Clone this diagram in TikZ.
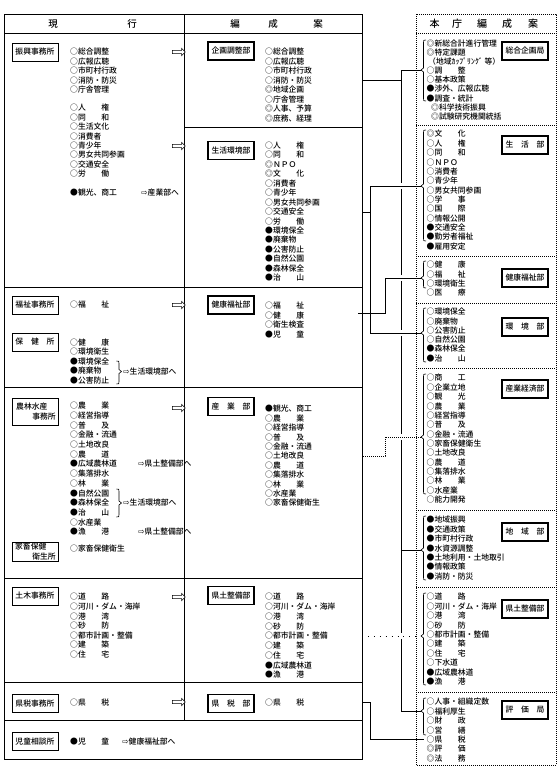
\documentclass[tikz,border=0pt]{standalone}
\usepackage{fontspec}
\setmainfont{Noto Sans CJK JP}[UprightFont=* Medium]
\newfontfamily\arrfont{DejaVu Sans}
\usetikzlibrary{shapes.arrows}
\newcommand\harr{{\arrfont ⇨}}
\newcommand\mylist[5]{\foreach \t [count=\i from 0] in {#5} {\node[itm] (#1\i) at (#2,{#3+\i*#4}) {\t};}}
\newcommand\lbrc[4]{\draw[conn] (#1+2.5,#2) .. controls (#1,#2) .. (#1,#2+2.5) -- (#1,#3-2) -- (#1-2.5,#3) -- (#1,#3+2) -- (#1,#4-2.5) .. controls (#1,#4) .. (#1+2.5,#4);}
\newcommand\rbrc[4]{\draw[conn] (#1-2.5,#2) .. controls (#1,#2) .. (#1,#2+2.5) -- (#1,#3-2) -- (#1+2.5,#3) -- (#1,#3+2) -- (#1,#4-2.5) .. controls (#1,#4) .. (#1-2.5,#4);}
\begin{document}
\begin{tikzpicture}[x=1pt,y=-1pt,
  itm/.style={anchor=west,inner sep=0pt,font=\fontsize{7.8}{9}\selectfont},
  conn/.style={line width=0.6pt},
  lbox/.style={draw,line width=0.6pt,minimum width=46pt,minimum height=18pt,inner sep=0pt,font=\fontsize{7.8}{9}\selectfont},
  mbox/.style={lbox,line width=1.1pt},
  hdr/.style={inner sep=0pt,font=\fontsize{9.5}{10}\selectfont},
  harrow/.style={single arrow,draw,fill=white,line width=0.5pt,minimum height=13pt,minimum width=7pt,single arrow head extend=2pt,inner sep=1.4pt},
  dotf/.style={line width=0.6pt,dash pattern=on 0.8pt off 1.2pt}]
\useasboundingbox (0,0) rectangle (560,769);
\fill[white] (0,0) rectangle (560,769);

% ---------- left frame ----------
\draw[line width=0.9pt] (4,14) rectangle (362,759);
\draw[line width=0.5pt] (4,33) -- (362,33);
\draw[line width=0.5pt] (184,14) -- (184,720);
\draw[line width=0.5pt] (184,127) -- (362,127);
\foreach \yy in {287,387,578,682,720} \draw[line width=0.6pt] (4,\yy) -- (362,\yy);

\node[hdr] (hg1) at (53,24) {現};
\node[hdr] (hg2) at (132,24) {行};
\node[hdr] (hh1) at (235,24) {編};
\node[hdr] (hh2) at (273,24) {成};
\node[hdr] (hh3) at (318,24) {案};

% ---------- left column boxes ----------
\node[lbox] (bshinko) at (35,52) {振興事務所};
\node[lbox] (bfukushi) at (35,305) {福祉事務所};
\node[lbox] (bhoken) at (35,342) {保　健　所};
\node[lbox,minimum height=27pt] (bnorin) at (35,411.5) {};
\node[itm] (bnorin1) at (16,407) {農林水産};
\node[itm,anchor=east] (bnorin2) at (56,416.5) {事務所};
\node[lbox,minimum height=19pt] (bkachiku) at (35,551.5) {};
\node[itm] (bkachiku1) at (15,547) {家畜保健};
\node[itm,anchor=east] (bkachiku2) at (56,556.5) {衛生所};
\node[lbox] (bdoboku) at (35,596) {土木事務所};
\node[lbox] (bkenzei) at (35,703.5) {県税事務所};
\node[lbox] (bjido) at (35,741.5) {児童相談所};

% ---------- left column items ----------
\mylist{la}{70}{52}{9.4}{○総合調整,○広報広聴,○市町村行政,○消防・防災,○庁舎管理}
\mylist{lb}{70}{108}{9.4}{○人　　権,○同　　和,○生活文化,○消費者,○青少年,○男女共同参画,○交通安全,○労　　働}
\node[itm] (lc) at (70,193) {●観光、商工};
\node[itm] (lcx) at (141,193) {\harr 産業部へ};
\node[itm] (ld) at (70,305) {○福　　祉};
\mylist{le}{70}{342.5}{9.5}{○健　　康,○環境衛生,●環境保全,●廃棄物,●公害防止}
\rbrc{119}{361}{371.5}{384}
\node[itm] (lex) at (123,372) {\harr 生活環境部へ};
\mylist{lf}{70}{406}{9.67}{○農　　業,○経営指導,○普　　及,○金融・流通,○土地改良,○農　　道,●広域農林道,○集落排水,○林　　業,●自然公園,●森林保全,●治　　山,○水産業,●漁　　港}
\node[itm] (lfx1) at (138,464) {\harr 県土整備部へ};
\rbrc{119}{489}{503}{517}
\node[itm] (lfx2) at (123,503) {\harr 生活環境部へ};
\node[itm] (lfx3) at (138,531.7) {\harr 県土整備部へ};
\node[itm] (lk) at (70,549) {○家畜保健衛生};
\mylist{lg}{70}{597}{9.6}{○道　　路,○河川・ダム・海岸,○港　　湾,○砂　　防,○都市計画・整備,○建　　築,○住　　宅}
\node[itm] (lh) at (70,703) {○県　　税};
\node[itm] (li) at (70,742) {●児　　童};
\node[itm] (lix) at (122,742) {\harr 健康福祉部へ};

% ---------- middle column ----------
\node[mbox] (bkikaku) at (231,51) {企画調整部};
\node[mbox] (bseikatsu) at (231,150.5) {生活環境部};
\node[mbox] (bkenko) at (231,305) {健康福祉部};
\node[mbox] (bsangyo) at (231,406.5) {産　業　部};
\node[mbox] (bkendo) at (231,595.5) {県土整備部};
\node[mbox] (bzei) at (231,703.5) {県　税　部};

\mylist{ma}{265}{52}{9.47}{○総合調整,○広報広聴,○市町村行政,○消防・防災,◎地域企画,○庁舎管理,◎人事、予算,◎庶務、経理}
\mylist{mb}{265}{145.5}{9.45}{○人　　権,○同　　和,◎ＮＰＯ,◎文　　化,○消費者,○青少年,○男女共同参画,○交通安全,○労　　働,●環境保全,●廃棄物,●公害防止,●自然公園,●森林保全,●治　　山}
\mylist{mc}{265}{306}{9.4}{○福　　祉,○健　　康,○衛生検査,●児　　童}
\mylist{md}{265}{409}{9.4}{●観光、商工,○農　　業,○経営指導,○普　　及,○金融・流通,○土地改良,○農　　道,○集落排水,○林　　業,○水産業,○家畜保健衛生}
\mylist{me}{265}{597}{9.75}{○道　　路,○河川・ダム・海岸,○港　　湾,○砂　　防,○都市計画・整備,○建　　築,○住　　宅,●広域農林道,●漁　　港}
\node[itm] (mf) at (265,702.5) {○県　　税};

% hollow arrows
\node[harrow] (a1) at (178,52) {};
\node[harrow] (a2) at (178,146) {};
\node[harrow] (a3) at (178,305) {};
\node[harrow] (a4) at (178,408) {};
\node[harrow] (a5) at (178,597) {};
\node[harrow] (a6) at (178,702) {};

% ---------- right dotted frame ----------
\draw[dotf] (416,14) rectangle (556,765);
\foreach \yy in {33,125,256,303,368,510,587,692} \draw[dotf] (416,\yy) -- (556,\yy);
\node[hdr,font=\fontsize{10}{11}\selectfont] (rh1) at (434.5,24) {本};
\node[hdr,font=\fontsize{10}{11}\selectfont] (rh2) at (457,24) {庁};
\node[hdr,font=\fontsize{10}{11}\selectfont] (rh3) at (482,24) {編};
\node[hdr,font=\fontsize{10}{11}\selectfont] (rh4) at (507,24) {成};
\node[hdr,font=\fontsize{10}{11}\selectfont] (rh5) at (533,24) {案};

\node[mbox] (rbsogo) at (525,51) {総合企画局};
\node[mbox] (rbseikatsu) at (525,145) {生　活　部};
\node[mbox] (rbkenko) at (525,278) {健康福祉部};
\node[mbox] (rbkankyo) at (525,327) {環　境　部};
\node[mbox] (rbsangyo) at (525,389) {産業経済部};
\node[mbox] (rbchiiki) at (525,532) {地　域　部};
\node[mbox] (rbkendo) at (525,609) {県土整備部};
\node[mbox] (rbhyoka) at (525,710) {評　価　局};

\node[itm] (r1) at (426.5,43.5) {◎新総合計進行管理};
\node[itm] (r2) at (426.5,52.6) {◎特定課題};
\node[itm] (r3) at (428,61.7) {（地域ｶｯﾌﾟﾘﾝｸﾞ 等）};
\node[itm] (r4) at (426.5,70.8) {○調　　整};
\node[itm] (r5) at (426.5,79.9) {○基本政策};
\node[itm] (r6) at (426.5,89) {●渉外、広報広聴};
\node[itm] (r7) at (426.5,98.1) {●調査・統計};
\node[itm] (r8) at (431,107.2) {◎科学技術振興};
\node[itm] (r9) at (431,116.3) {◎試験研究機関統括};
\mylist{rb}{426.5}{134}{9.35}{◎文　　化,○人　　権,○同　　和,○ＮＰＯ,○消費者,○青少年,○男女共同参画,○学　　事,○国　　際,○情報公開,●交通安全,●勤労者福祉,●雇用安定}
\mylist{rc}{426.5}{265}{9.3}{○健　　康,○福　　祉,○環境衛生,○医　　療}
\mylist{rd}{426.5}{312}{9.25}{○環境保全,○廃棄物,○公害防止,○自然公園,●森林保全,●治　　山}
\mylist{re}{426.5}{378}{9.35}{○商　　工,○企業立地,○観　　光,○農　　業,○経営指導,○普　　及,○金融・流通,○家畜保健衛生,○土地改良,○農　　道,○集落排水,○林　　業,○水産業,○能力開発}
\mylist{rf}{426.5}{520}{9.4}{●地域振興,●交通政策,●市町村行政,●水資源調整,●土地利用・土地取引,●情報政策,●消防・防災}
\mylist{rg}{426.5}{597}{9.4}{○道　　路,○河川・ダム・海岸,○港　　湾,○砂　　防,○都市計画・整備,○建　　築,○住　　宅,○下水道,●広域農林道,●漁　　港}
\mylist{rh}{426.5}{702}{9.4}{○人事・組織定数,○福利厚生,○財　　政,○営　　繕,○県　　税,◎評　　価,◎法　　務}

% braces
\lbrc{423.5}{40}{70}{101}
\lbrc{423.5}{130}{186}{241}
\lbrc{423.5}{261}{278}{288}
\lbrc{423.5}{308}{333}{362}
\lbrc{423.5}{374}{437}{494}
\lbrc{423.5}{516}{550}{580}
\lbrc{423.5}{593}{636}{685}
\lbrc{423.5}{698}{711}{735}

% ---------- connectors ----------
\coordinate (tS) at (421,70);
\coordinate (tL) at (421,186);
\coordinate (tK) at (421,278);
\coordinate (tE) at (421,333);
\coordinate (tI) at (421,437);
\coordinate (tC) at (421,550);
\coordinate (tD) at (421,636);
\coordinate (tH) at (421,711);
\coordinate (tZ) at (424,739);
\coordinate (eKikaku) at (362,80);
\coordinate (eSeikatsu) at (362,212);
\coordinate (eKenko) at (358,313);
\coordinate (eSangyo) at (363,456);
\coordinate (eKendo) at (368,636);
\coordinate (eZei) at (362,702);

\draw[conn] (eKikaku) -- (401,80);
\draw[conn] (tS) -- (401,70) -- (401,183) (401,189) -- (401,275) (401,281) -- (401,330) (401,336) -- (401,434) (401,440) -- (401,633) (401,639) -- (401,711) -- (tH);
\draw[conn] (401,550) -- (tC);
\draw[conn] (eSeikatsu) -- (370,212);
\draw[conn] (tL) -- (370,186) -- (370,333) -- (tE);
\draw[conn] (eKenko) -- (385,313) -- (385,278) -- (tK);
\draw[line width=0.6pt,dash pattern=on 0.8pt off 1.2pt] (eSangyo) -- (385,456) -- (385,437) -- (tI);
\draw[line width=0.8pt,dash pattern=on 0.9pt off 5pt] (eKendo) -- (tD);
\draw[conn] (eZei) -- (370,702) -- (370,739) -- (tZ);
\end{tikzpicture}
\end{document}
